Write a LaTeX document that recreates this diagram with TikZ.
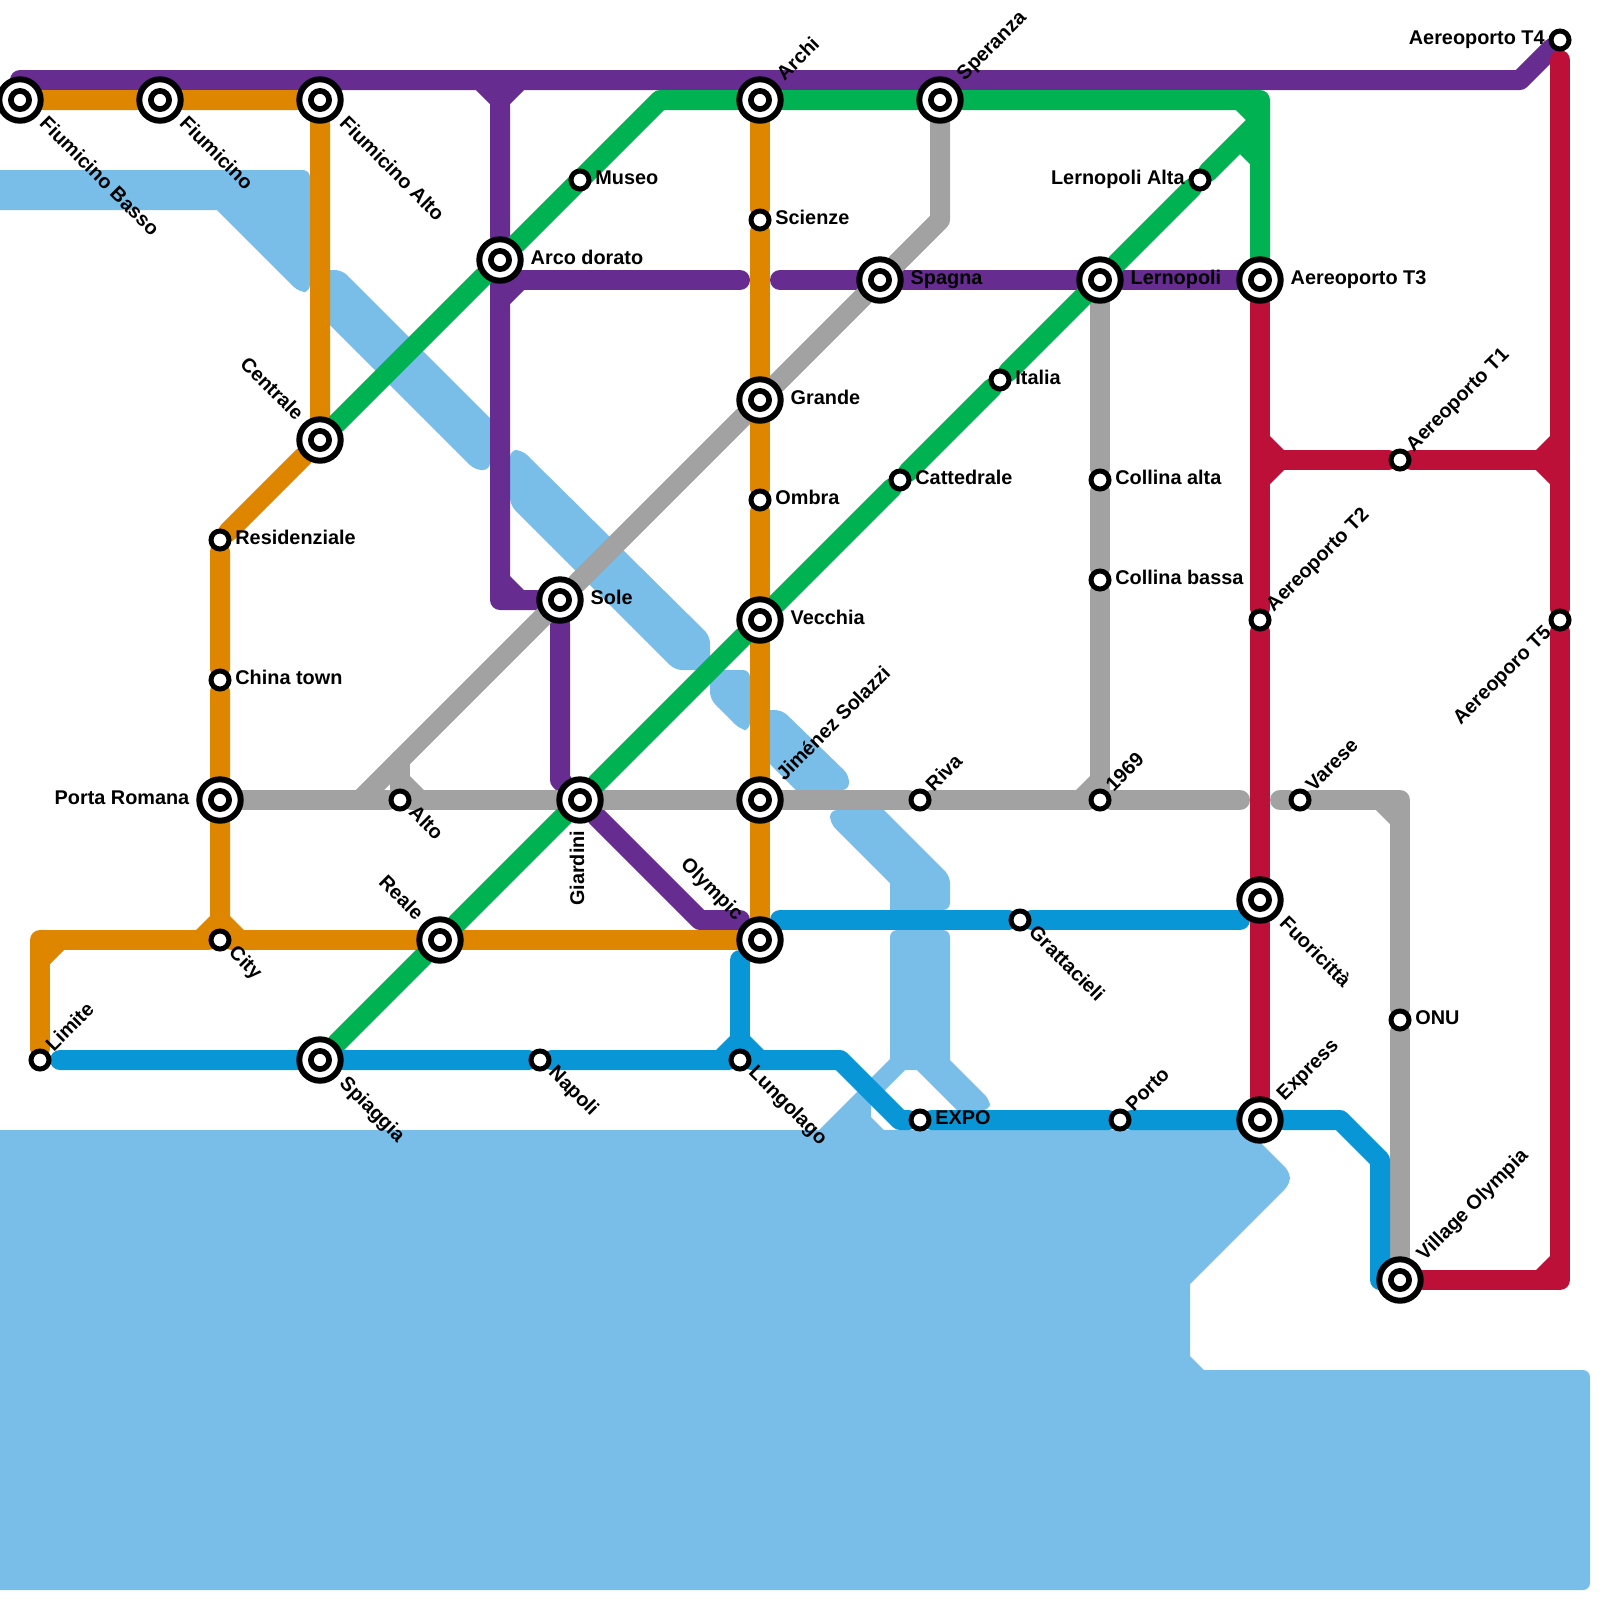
\documentclass[tikz,border=0pt]{standalone}
\usepackage{fontspec}
\setmainfont{Liberation Sans}
\pgfdeclarelayer{front}
\pgfsetlayers{main,front}

\definecolor{lnorange}{HTML}{DF8600}
\definecolor{lnpurple}{HTML}{662C90}
\definecolor{lngreen}{HTML}{00B251}
\definecolor{lnblue}{HTML}{0896D7}
\definecolor{lngrey}{HTML}{A2A2A2}
\definecolor{lnred}{HTML}{BD1038}
\definecolor{lake}{HTML}{79BDE9}

\tikzset{
  metro/.style={line width=0.2cm,line cap=round,line join=round},
  water/.style={fill=lake,rounded corners=2pt},
  stnbig/.style={circle,draw=black,fill=white,line width=0.06cm,minimum size=0.414cm,inner sep=0pt,
    path picture={\draw[black,line width=0.057cm] (path picture bounding box.center) circle (0.091cm);}},
  stn/.style={circle,draw=black,fill=white,line width=0.05cm,minimum size=0.18cm,inner sep=0pt},
  lbl/.style={font=\bfseries\fontsize{5.65pt}{6pt}\selectfont,inner sep=0pt,text=black},
  lblE/.style={lbl,anchor=base west,xshift=#1,yshift=-0.042cm},
  lblE/.default=0.147cm,
  lblW/.style={lbl,anchor=base east,xshift=-#1,yshift=-0.042cm},
  lblW/.default=0.147cm,
  lblNE/.style={rotate=45,lblE=#1},
  lblNE/.default=0.147cm,
  lblSE/.style={rotate=-45,lblE=#1},
  lblSE/.default=0.147cm,
  lblNW/.style={rotate=-45,lblW=#1},
  lblNW/.default=0.147cm,
  lblSW/.style={rotate=45,lblW=#1},
  lblSW/.default=0.147cm,
  lblS/.style={rotate=90,lblW=#1},
}

% inner corner where a line branches off: colour, point, x side, y side
\newcommand{\fillet}[4]{\fill[#1] (#2) ++(#3*0.5,#4*0.5) -- ++(#3*0.7,0) -- ++(-#3*0.7,#4*0.7) -- cycle;}

\begin{document}
\begin{tikzpicture}[x=0.2cm,y=-0.2cm]
    \useasboundingbox (0,0) rectangle (80,80);

    % Stations
    \begin{pgfonlayer}{front}
    \node[stnbig] (basso) at (1,5) {};
    \node[stnbig] (fiumicino) at (8,5) {};
    \node[stnbig] (fiualto) at (16,5) {};
    \node[stnbig] (centrale) at (16,22) {};
    \node[stn] (resid) at (11,27) {};
    \node[stn] (china) at (11,34) {};
    \node[stnbig] (porta) at (11,40) {};
    \node[stn] (city) at (11,47) {};
    \node[stn] (limite) at (2,53) {};
    \node[stnbig] (reale) at (22,47) {};
    \node[stnbig] (spiaggia) at (16,53) {};
    \node[stn] (napoli) at (27,53) {};
    \node[stn] (lungolago) at (37,53) {};
    \node[stn] (expo) at (46,56) {};
    \node[stn] (porto) at (56,56) {};
    \node[stnbig] (express) at (63,56) {};
    \node[stnbig] (village) at (70,64) {};
    \node[stn] (onu) at (70,51) {};
    \node[stn] (varese) at (65,40) {};
    \node[stnbig] (fuori) at (63,45) {};
    \node[stn] (gratt) at (51,46) {};
    \node[stnbig] (olympic) at (38,47) {};
    \node[stnbig] (jimenez) at (38,40) {};
    \node[stnbig] (vecchia) at (38,31) {};
    \node[stn] (ombra) at (38,25) {};
    \node[stnbig] (grande) at (38,20) {};
    \node[stn] (scienze) at (38,11) {};
    \node[stnbig] (archi) at (38,5) {};
    \node[stnbig] (speranza) at (47,5) {};
    \node[stnbig] (spagna) at (44,14) {};
    \node[stnbig] (lernopoli) at (55,14) {};
    \node[stnbig] (tthree) at (63,14) {};
    \node[stn] (italia) at (50,19) {};
    \node[stn] (cattedrale) at (45,24) {};
    \node[stn] (collalta) at (55,24) {};
    \node[stn] (collbassa) at (55,29) {};
    \node[stn] (nineteen) at (55,40) {};
    \node[stn] (riva) at (46,40) {};
    \node[stnbig] (giardini) at (29,40) {};
    \node[stn] (alto) at (20,40) {};
    \node[stnbig] (sole) at (28,30) {};
    \node[stn] (museo) at (29,9) {};
    \node[stnbig] (arco) at (25,13) {};
    \node[stn] (lernalta) at (60,9) {};
    \node[stn] (tfour) at (78,2) {};
    \node[stn] (tone) at (70,23) {};
    \node[stn] (ttwo) at (63,31) {};
    \node[stn] (tfive) at (78,31) {};

    % Labels
    \node[lblSE=.3cm] (basso-t) at (basso) {Fiumicino Basso};
    \node[lblSE=.3cm] (fiumicino-t) at (fiumicino) {Fiumicino};
    \node[lblSE=.3cm] (fiualto-t) at (fiualto) {Fiumicino Alto};
    \node[lblNW=.3cm] (centrale-t) at (centrale) {Centrale};
    \node[lblE] (resid-t) at (resid) {Residenziale};
    \node[lblE] (china-t) at (china) {China town};
    \node[lblW=.3cm] (porta-t) at (porta) {Porta Romana};
    \node[lblSE] (city-t) at (city) {City};
    \node[lblNE] (limite-t) at (limite) {Limite};
    \node[lblNW=.3cm] (reale-t) at (reale) {Reale};
    \node[lblSE=.3cm] (spiaggia-t) at (spiaggia) {Spiaggia};
    \node[lblSE] (napoli-t) at (napoli) {Napoli};
    \node[lblSE] (lungolago-t) at (lungolago) {Lungolago};
    \node[lblE] (expo-t) at (expo) {EXPO};
    \node[lblNE] (porto-t) at (porto) {Porto};
    \node[lblNE=.3cm] (express-t) at (express) {Express};
    \node[lblNE=.3cm] (village-t) at (village) {Village Olympia};
    \node[lblE] (onu-t) at (onu) {ONU};
    \node[lblNE] (varese-t) at (varese) {Varese};
    \node[lblSE=.3cm] (fuori-t) at (fuori) {Fuoricittà};
    \node[lblSE] (gratt-t) at (gratt) {Grattacieli};
    \node[lblNW=.3cm] (olympic-t) at (olympic) {Olympic};
    \node[lblNE=.3cm] (jimenez-t) at (jimenez) {Jiménez Solazzi};
    \node[lblE=.3cm] (vecchia-t) at (vecchia) {Vecchia};
    \node[lblE] (ombra-t) at (ombra) {Ombra};
    \node[lblE=.3cm] (grande-t) at (grande) {Grande};
    \node[lblE] (scienze-t) at (scienze) {Scienze};
    \node[lblNE=.3cm] (archi-t) at (archi) {Archi};
    \node[lblNE=.3cm] (speranza-t) at (speranza) {Speranza};
    \node[lblE=.3cm] (spagna-t) at (spagna) {Spagna};
    \node[lblE=.3cm] (lernopoli-t) at (lernopoli) {Lernopoli};
    \node[lblE=.3cm] (tthree-t) at (tthree) {Aereoporto T3};
    \node[lblE] (italia-t) at (italia) {Italia};
    \node[lblE] (cattedrale-t) at (cattedrale) {Cattedrale};
    \node[lblE] (collalta-t) at (collalta) {Collina alta};
    \node[lblE] (collbassa-t) at (collbassa) {Collina bassa};
    \node[lblNE] (nineteen-t) at (nineteen) {1969};
    \node[lblNE] (riva-t) at (riva) {Riva};
    \node[lblS=.3cm] (giardini-t) at (giardini) {Giardini};
    \node[lblSE] (alto-t) at (alto) {Alto};
    \node[lblE=.3cm] (sole-t) at (sole) {Sole};
    \node[lblE] (museo-t) at (museo) {Museo};
    \node[lblE=.3cm] (arco-t) at (arco) {Arco dorato};
    \node[lblW] (lernalta-t) at (lernalta) {Lernopoli Alta};
    \node[lblW] (tfour-t) at (tfour) {Aereoporto T4};
    \node[lblNE] (tone-t) at (tone) {Aereoporto T1};
    \node[lblNE] (ttwo-t) at (ttwo) {Aereoporto T2};
    \node[lblSW] (tfive-t) at (tfive) {Aereoporo T5};
    \end{pgfonlayer}

    % Water
    \fill[water] (-1,8.5) -- (15.5,8.5) -- (15.5,14.6) -- (14.95,14.6) [sharp corners] -- (10.85,10.5) -- (-1,10.5) -- cycle;
    \fill[water] (16.5,13.5) -- (17.1,13.5) [sharp corners] -- (24.5,20.9) [rounded corners=2pt] -- (24.5,23.5) -- (23.75,23.5) [sharp corners] -- (16.5,16.25) -- cycle;
    \fill[water] (25.5,25.25) [rounded corners=2pt] -- (25.5,22.5) -- (26.1,22.5) -- (35.5,31.8) -- (35.5,33.5) -- (33.75,33.5) -- cycle;
    \fill[water] (35.5,33.5) -- (37.5,33.5) -- (37.5,36.5) -- (37.05,36.5) -- (35.5,34.95) -- cycle;
    \fill[water] (38.5,35.5) -- (39.1,35.5) -- (42.45,38.75) -- (42.45,39.5) [sharp corners] -- (39.8,39.5) -- (38.5,38.2) -- cycle;
    \fill[water] (41.5,40.5) [sharp corners] -- (44.2,40.5) [rounded corners=2pt] -- (47.5,43.8) -- (47.5,45.5) [sharp corners] -- (44.5,45.5) -- (44.5,44.15) [rounded corners=2pt] -- (41.5,41.15) -- cycle;
    \fill[water] (44.5,46.5) -- (47.5,46.5) [sharp corners] -- (47.5,53) [rounded corners=2pt] -- (49.5,55) -- (49.5,55.5) [sharp corners] -- (47.85,55.5) -- (45.85,53.5) -- (45.25,53.5) -- (43.55,55.2) -- (43.55,55.85) -- (44.2,56.5) -- (40.95,56.5) -- (44.5,52.95) [rounded corners=2pt] -- cycle;
    \fill[water] (-1,56.5) [sharp corners] -- (62.4,56.5) [rounded corners=2pt] -- (64.5,58.6) -- (64.5,59.2) [sharp corners] -- (59.5,64.2) -- (59.5,67.8) -- (60.2,68.5) [rounded corners=2pt] -- (79.5,68.5) -- (79.5,79.5) [sharp corners] -- (-1,79.5) -- cycle;

    % Bends and free ends
    \coordinate (ptopl) at (1,4);
    \coordinate (ptopr) at (76,4);
    \coordinate (pjunc) at (25,4);
    \coordinate (pturn) at (25,30);
    \coordinate (pbranch) at (25,14);
    \coordinate (pstopl) at (37,14);
    \coordinate (pstopr) at (39,14);
    \coordinate (pbendl) at (28,39);
    \coordinate (pbendr) at (35,46);
    \coordinate (pend) at (37,46);
    \coordinate (ocorner) at (2,47);
    \coordinate (gbend) at (33,5);
    \coordinate (gcorner) at (63,5);
    \coordinate (gjunc) at (63,6);
    \coordinate (abend) at (47,11);
    \coordinate (aturn) at (18,40);
    \coordinate (astub) at (20,38);
    \coordinate (astop) at (62,40);
    \coordinate (astart) at (64,40);
    \coordinate (acorner) at (70,40);
    \coordinate (bstart) at (3,53);
    \coordinate (bbend) at (42,53);
    \coordinate (bbendr) at (45,56);
    \coordinate (bout) at (67,56);
    \coordinate (bdown) at (69,58);
    \coordinate (bcorner) at (69,64);
    \coordinate (bstub) at (37,48);
    \coordinate (btopl) at (39,46);
    \coordinate (btopr) at (62,46);
    \coordinate (rjuncl) at (63,23);
    \coordinate (rjuncr) at (78,23);
    \coordinate (rtop) at (78,3);
    \coordinate (rcorner) at (78,64);

    % Purple line
    \draw[metro,lnpurple] (ptopl) -- (ptopr) -- (tfour);
    \draw[metro,lnpurple] (pjunc) -- (arco) -- (pturn) -- (sole) -- (pbendl) -- (giardini) -- (pbendr) -- (pend);
    \draw[metro,lnpurple] (pbranch) -- (pstopl);
    \draw[metro,lnpurple] (pstopr) -- (spagna) -- (lernopoli) -- (tthree);
    \fillet{lnpurple}{25,4}{-1}{1}
    \fillet{lnpurple}{25,4}{1}{1}
    \fillet{lnpurple}{25,14}{1}{1}
    \fillet{lnpurple}{25,30}{1}{-1}

    % Grey line
    \draw[metro,lngrey] (speranza) -- (abend) -- (spagna) -- (grande) -- (sole) -- (aturn);
    \draw[metro,lngrey] (porta) -- (alto) -- (giardini) -- (jimenez) -- (riva) -- (nineteen) -- (astop);
    \draw[metro,lngrey] (astub) -- (alto);
    \draw[metro,lngrey] (lernopoli) -- (collalta) -- (collbassa) -- (nineteen);
    \draw[metro,lngrey] (astart) -- (varese) -- (acorner) -- (onu) -- (village);
    \fillet{lngrey}{20,40}{1}{-1}
    \fillet{lngrey}{55,40}{-1}{-1}
    \fillet{lngrey}{70,40}{-1}{1}

    % Orange line
    \draw[metro,lnorange] (basso) -- (fiumicino) -- (fiualto) -- (centrale) -- (resid) -- (china) -- (porta) -- (city);
    \draw[metro,lnorange] (olympic) -- (reale) -- (city) -- (ocorner) -- (limite);
    \draw[metro,lnorange] (archi) -- (scienze) -- (grande) -- (ombra) -- (vecchia) -- (jimenez) -- (olympic);
    \fillet{lnorange}{11,47}{-1}{-1}
    \fillet{lnorange}{11,47}{1}{-1}
    \fillet{lnorange}{2,47}{1}{1}

    % Green line
    \draw[metro,lngreen] (centrale) -- (arco) -- (gbend) -- (archi) -- (speranza) -- (gcorner) -- (tthree);
    \draw[metro,lngreen] (spiaggia) -- (reale) -- (giardini) -- (vecchia) -- (cattedrale) -- (italia) -- (lernopoli) -- (lernalta) -- (gjunc);
    \fillet{lngreen}{63,5}{-1}{1}
    \fill[lngreen] (62,7.7) -- (62.5,8.2) -- (62.5,7) -- cycle;

    % Blue line
    \draw[metro,lnblue] (bstart) -- (spiaggia) -- (napoli) -- (lungolago) -- (bbend) -- (bbendr) -- (expo) -- (porto) -- (express) -- (bout) -- (bdown) -- (bcorner) -- (village.center);
    \draw[metro,lnblue] (bstub) -- (lungolago);
    \draw[metro,lnblue] (btopl) -- (gratt) -- (btopr);
    \fillet{lnblue}{37,53}{-1}{-1}
    \fillet{lnblue}{37,53}{1}{-1}

    % Red line
    \draw[metro,lnred] (tthree) -- (ttwo) -- (fuori) -- (express);
    \draw[metro,lnred] (rjuncl) -- (tone) -- (rjuncr);
    \draw[metro,lnred] (rtop) -- (tfive) -- (rcorner) -- (village);
    \fillet{lnred}{63,23}{1}{-1}
    \fillet{lnred}{63,23}{1}{1}
    \fillet{lnred}{78,23}{-1}{-1}
    \fillet{lnred}{78,23}{-1}{1}
    \fillet{lnred}{78,64}{-1}{-1}
  \end{tikzpicture}
\end{document}
